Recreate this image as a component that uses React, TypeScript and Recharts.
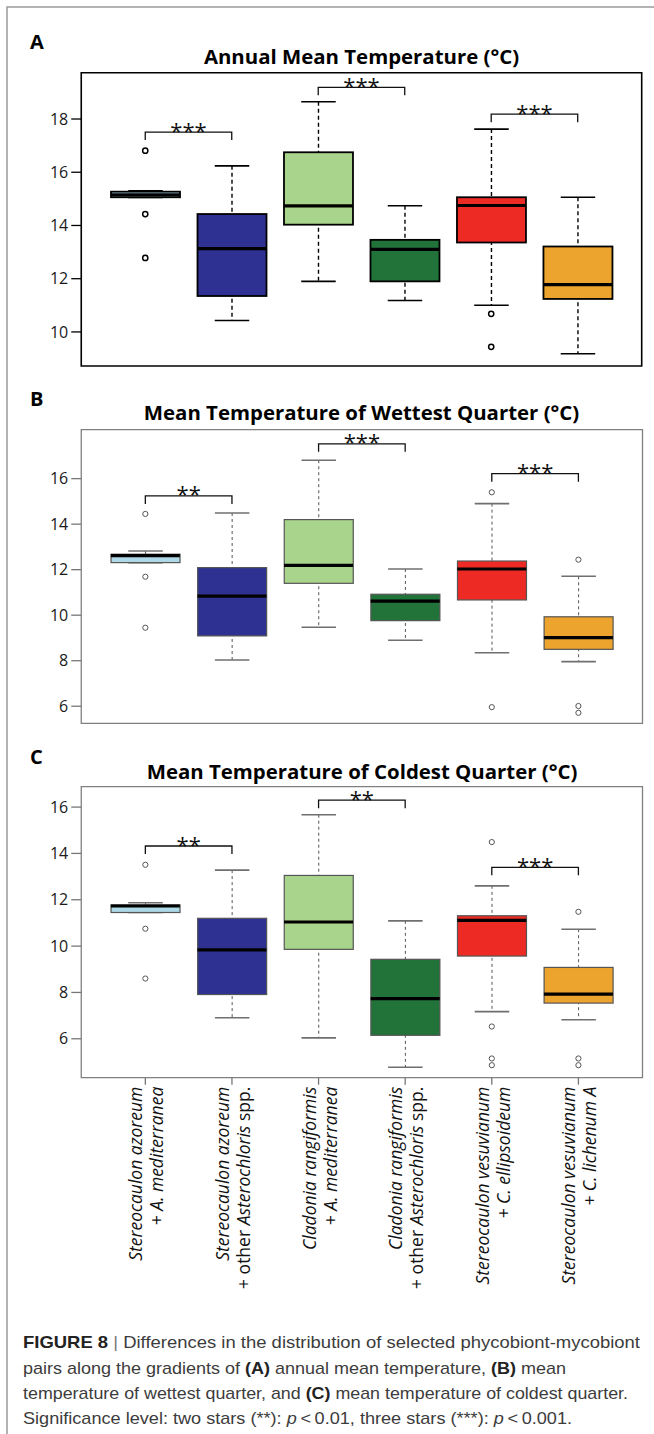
import React from 'react';
import {
  ComposedChart,
  Bar,
  Scatter,
  XAxis,
  YAxis,
  ReferenceLine,
  ReferenceArea,
} from 'recharts';

// groups (x positions) and their colours
const POSITIONS = [1, 2, 3, 4, 5, 6];
const COLORS = ['#ADD8E6', '#2E3192', '#A9D48C', '#22733A', '#EE2A24', '#EDA42E'];

// two-line axis labels, [text, italic]
const LABEL_TOP = [
  'Stereocaulon azoreum',
  'Stereocaulon azoreum',
  'Cladonia rangiformis',
  'Cladonia rangiformis',
  'Stereocaulon vesuvianum',
  'Stereocaulon vesuvianum',
];
const LABEL_BOTTOM: [string, boolean][][] = [
  [['+ A. mediterranea', true]],
  [['+ other ', false], ['Asterochloris', true], [' spp.', false]],
  [['+ A. mediterranea', true]],
  [['+ other ', false], ['Asterochloris', true], [' spp.', false]],
  [['+ C. ellipsoideum', true]],
  [['+ C. lichenum A', true]],
];

// A: annual mean temperature
const A_LO = [15.05, 10.43, 11.9, 11.18, 11.0, 9.18];
const A_Q1 = [15.06, 11.35, 14.03, 11.9, 13.36, 11.24];
const A_MED = [15.15, 13.13, 14.74, 13.1, 14.75, 11.78];
const A_Q3 = [15.27, 14.43, 16.75, 13.46, 15.06, 13.21];
const A_HI = [15.3, 16.24, 18.65, 14.74, 17.62, 15.06];
const A_OUT_POS = [1, 1, 1, 5, 5];
const A_OUT_VAL = [16.81, 14.43, 12.78, 10.68, 9.44];
const A_TICKS = [10, 12, 14, 16, 18];
const A_SIG = [
  { from: 1, to: 2, y: 17.51, stars: '***' },
  { from: 3, to: 4, y: 19.19, stars: '***' },
  { from: 5, to: 6, y: 18.18, stars: '***' },
];

// B: mean temperature of wettest quarter
const B_LO = [12.31, 8.03, 9.47, 8.9, 8.35, 7.96];
const B_Q1 = [12.31, 9.09, 11.4, 9.76, 10.67, 8.5];
const B_MED = [12.62, 10.84, 12.19, 10.62, 12.03, 9.01];
const B_Q3 = [12.68, 12.09, 14.2, 10.92, 12.38, 9.93];
const B_HI = [12.82, 14.49, 16.81, 12.03, 14.9, 11.71];
const B_OUT_POS = [1, 1, 1, 5, 5, 6, 6, 6];
const B_OUT_VAL = [14.45, 11.69, 9.45, 15.4, 5.96, 12.44, 6.01, 5.71];
const B_TICKS = [6, 8, 10, 12, 14, 16];
const B_SIG = [
  { from: 1, to: 2, y: 15.24, stars: '**' },
  { from: 3, to: 4, y: 17.53, stars: '***' },
  { from: 5, to: 6, y: 16.22, stars: '***' },
];

// C: mean temperature of coldest quarter
const C_LO = [11.45, 6.91, 6.04, 4.77, 7.17, 6.82];
const C_Q1 = [11.45, 7.91, 9.86, 6.15, 9.57, 7.54];
const C_MED = [11.73, 9.84, 11.04, 7.73, 11.11, 7.93];
const C_Q3 = [11.78, 11.2, 13.05, 9.43, 11.31, 9.08];
const C_HI = [11.87, 13.28, 15.67, 11.09, 12.6, 10.73];
const C_OUT_POS = [1, 1, 1, 5, 5, 5, 5, 6, 6, 6];
const C_OUT_VAL = [13.51, 10.75, 8.6, 14.49, 6.53, 5.15, 4.86, 11.48, 5.15, 4.86];
const C_TICKS = [6, 8, 10, 12, 14, 16];
const C_SIG = [
  { from: 1, to: 2, y: 14.32, stars: '**' },
  { from: 3, to: 4, y: 16.3, stars: '**' },
  { from: 5, to: 6, y: 13.4, stars: '***' },
];

const X_DOMAIN: [number, number] = [0.26, 6.74];
const BOX_W = 69;
const FONT = "'Open Sans', 'DejaVu Sans', sans-serif";

const DARK = {
  border: '#000', borderW: 1.6, box: '#000', boxW: 1.8, whisker: '#000', whiskerW: 1.4,
  dash: '4 3', cap: '#000', capW: 1.6, pt: '#000', ptW: 1.5, tick: '#000',
};
const GRAY = {
  border: '#808080', borderW: 1.3, box: '#555', boxW: 1.2, whisker: '#555', whiskerW: 1,
  dash: '3 3', cap: '#6f6f6f', capW: 1.6, pt: '#555', ptW: 1, tick: '#777',
};

type Theme = typeof DARK;

function buildRows(lo: number[], q1: number[], med: number[], q3: number[], hi: number[]) {
  return POSITIONS.map((pos, i) => ({
    pos, lo: lo[i], q1: q1[i], med: med[i], q3: q3[i], hi: hi[i], color: COLORS[i],
  }));
}

function buildOutliers(pos: number[], val: number[]) {
  return pos.map((p, i) => ({ pos: p, v: val[i] }));
}

function SpeciesTick(props: any) {
  const { x, y, payload } = props;
  const i = POSITIONS.indexOf(payload.value);
  if (i < 0) return null;
  return (
    <g transform={`translate(${x},${y}) rotate(-90)`} fontFamily={FONT} fontSize={17.5} fill="#111">
      <text x={0} y={-3} textAnchor="end" fontStyle="italic">
        {LABEL_TOP[i]}
      </text>
      <text x={0} y={18} textAnchor="end">
        {LABEL_BOTTOM[i].map(([t, it], k) => (
          <tspan key={k} fontStyle={it ? 'italic' : 'normal'}>
            {t}
          </tspan>
        ))}
      </text>
    </g>
  );
}

interface PanelProps {
  top: number;
  height: number;
  margin: { top: number; right: number; bottom: number; left: number };
  domain: [number, number];
  ticks: number[];
  rows: ReturnType<typeof buildRows>;
  outliers: { pos: number; v: number }[];
  sig: { from: number; to: number; y: number; stars: string }[];
  theme: Theme;
  labels?: boolean;
}

function Panel({ top, height, margin, domain, ticks, rows, outliers, sig, theme, labels }: PanelProps) {
  return (
    <div style={{ position: 'absolute', left: 0, top }}>
      <ComposedChart width={654} height={height} margin={margin} data={rows}>
        <XAxis
          type="number"
          dataKey="pos"
          domain={X_DOMAIN}
          ticks={POSITIONS}
          interval={0}
          axisLine={false}
          tickSize={7}
          tickMargin={2}
          tickLine={{ stroke: theme.tick, strokeWidth: 1.3 }}
          tick={labels ? <SpeciesTick /> : false}
          height={labels ? 230 : 10}
        />
        <XAxis xAxisId="w" type="number" dataKey="pos" domain={X_DOMAIN} ticks={POSITIONS} hide />
        <YAxis
          type="number"
          domain={domain}
          ticks={ticks}
          allowDataOverflow
          width={60}
          axisLine={false}
          tickSize={10}
          tickMargin={3}
          tickLine={{ stroke: theme.tick, strokeWidth: 1.3 }}
          tick={{ fontSize: 16, fill: '#1a1a1a', fontFamily: FONT }}
        />
        <ReferenceArea
          x1={X_DOMAIN[0]}
          x2={X_DOMAIN[1]}
          y1={domain[0]}
          y2={domain[1]}
          fill="none"
          fillOpacity={0}
          stroke={theme.border}
          strokeWidth={theme.borderW}
          ifOverflow="visible"
        />
        {/* whiskers + staples */}
        <Bar
          xAxisId="w"
          dataKey={(d: any) => [d.lo, d.hi]}
          barSize={BOX_W}
          isAnimationActive={false}
          shape={(p: any) => {
            const cx = p.x + p.width / 2;
            const half = p.width / 4;
            return (
              <g>
                <line x1={cx} x2={cx} y1={p.y} y2={p.y + p.height} stroke={theme.whisker} strokeWidth={theme.whiskerW} strokeDasharray={theme.dash} />
                <line x1={cx - half} x2={cx + half} y1={p.y} y2={p.y} stroke={theme.cap} strokeWidth={theme.capW} />
                <line x1={cx - half} x2={cx + half} y1={p.y + p.height} y2={p.y + p.height} stroke={theme.cap} strokeWidth={theme.capW} />
              </g>
            );
          }}
        />
        {/* boxes */}
        <Bar
          dataKey={(d: any) => [d.q1, d.q3]}
          barSize={BOX_W}
          isAnimationActive={false}
          shape={(p: any) => (
            <rect x={p.x} y={p.y} width={p.width} height={p.height} fill={p.payload.color} stroke={theme.box} strokeWidth={theme.boxW} />
          )}
        />
        {/* medians */}
        <Scatter
          dataKey="med"
          isAnimationActive={false}
          shape={(p: any) => (
            <line x1={p.cx - BOX_W / 2} x2={p.cx + BOX_W / 2} y1={p.cy} y2={p.cy} stroke="#000" strokeWidth={3.2} />
          )}
        />
        {/* outliers */}
        <Scatter
          data={outliers}
          dataKey="v"
          isAnimationActive={false}
          shape={(p: any) => <circle cx={p.cx} cy={p.cy} r={2.6} fill="#fff" stroke={theme.pt} strokeWidth={theme.ptW} />}
        />
        {sig.map((s) => (
          <ReferenceLine
            key={s.from}
            segment={[{ x: s.from, y: s.y }, { x: s.to, y: s.y }]}
            ifOverflow="visible"
            shape={(p: any) => (
              <g>
                <path
                  d={`M${p.x1},${p.y1 + 8}V${p.y1}H${p.x2}V${p.y1 + 8}`}
                  fill="none"
                  stroke="#111"
                  strokeWidth={1.3}
                />
                <text x={(p.x1 + p.x2) / 2} y={p.y1 + 6.5} textAnchor="middle" fontFamily={FONT} fontSize={22} fill="#111">
                  {s.stars}
                </text>
              </g>
            )}
          />
        ))}
      </ComposedChart>
    </div>
  );
}

const TITLE = { fontFamily: FONT, fontWeight: 700, fontSize: 20.4, fill: '#000' } as const;
const LETTER = { fontFamily: FONT, fontWeight: 700, fontSize: 20, fill: '#000' } as const;
const CAP = { fontFamily: "'Liberation Sans', Arial, sans-serif", fontSize: 17, fill: '#3c3c3c' } as const;

export default function App() {
  return (
    <div style={{ position: 'absolute', left: 0, top: 0, width: 654, height: 1434, background: '#fff' }}>
      <Panel
        top={0}
        height={380}
        margin={{ top: 72.7, right: 12.3, bottom: 4, left: 21.25 }}
        domain={[8.72, 19.74]}
        ticks={A_TICKS}
        rows={buildRows(A_LO, A_Q1, A_MED, A_Q3, A_HI)}
        outliers={buildOutliers(A_OUT_POS, A_OUT_VAL)}
        sig={A_SIG}
        theme={DARK}
      />
      <Panel
        top={380}
        height={360}
        margin={{ top: 49.7, right: 11.5, bottom: 6.7, left: 21.25 }}
        domain={[5.25, 18.15]}
        ticks={B_TICKS}
        rows={buildRows(B_LO, B_Q1, B_MED, B_Q3, B_HI)}
        outliers={buildOutliers(B_OUT_POS, B_OUT_VAL)}
        sig={B_SIG}
        theme={GRAY}
      />
      <Panel
        top={740}
        height={570}
        margin={{ top: 46.7, right: 11.5, bottom: 2.3, left: 21.25 }}
        domain={[4.32, 16.88]}
        ticks={C_TICKS}
        rows={buildRows(C_LO, C_Q1, C_MED, C_Q3, C_HI)}
        outliers={buildOutliers(C_OUT_POS, C_OUT_VAL)}
        sig={C_SIG}
        theme={GRAY}
        labels
      />
      <svg width={654} height={1434} style={{ position: 'absolute', left: 0, top: 0, pointerEvents: 'none' }}>
        <path d="M654,7H7V1434" fill="none" stroke="#9a9a9a" strokeWidth={1.5} />
        <text x={30} y={49} {...LETTER}>A</text>
        <text x={30} y={406} {...LETTER}>B</text>
        <text x={30} y={764} {...LETTER}>C</text>
        <text x={361.5} y={64} textAnchor="middle" {...TITLE}>Annual Mean Temperature (°C)</text>
        <text x={361.5} y={420} textAnchor="middle" {...TITLE}>Mean Temperature of Wettest Quarter (°C)</text>
        <text x={362} y={779} textAnchor="middle" {...TITLE}>Mean Temperature of Coldest Quarter (°C)</text>

        <text x={23} y={1348} textLength={617} lengthAdjust="spacingAndGlyphs" {...CAP}>
          <tspan fontWeight={700} fill="#222">FIGURE 8</tspan>
          <tspan fill="#777"> | </tspan>
          <tspan>Differences in the distribution of selected phycobiont-mycobiont</tspan>
        </text>
        <text x={23} y={1374} textLength={543} lengthAdjust="spacingAndGlyphs" {...CAP}>
          <tspan>pairs along the gradients of </tspan>
          <tspan fontWeight={700} fill="#222">(A)</tspan>
          <tspan> annual mean temperature, </tspan>
          <tspan fontWeight={700} fill="#222">(B)</tspan>
          <tspan> mean</tspan>
        </text>
        <text x={23} y={1399} textLength={605} lengthAdjust="spacingAndGlyphs" {...CAP}>
          <tspan>temperature of wettest quarter, and </tspan>
          <tspan fontWeight={700} fill="#222">(C)</tspan>
          <tspan> mean temperature of coldest quarter.</tspan>
        </text>
        <text x={23} y={1424} textLength={549} lengthAdjust="spacingAndGlyphs" {...CAP}>
          <tspan>Significance level: two stars (**): </tspan>
          <tspan fontStyle="italic">p</tspan>
          <tspan>{'\u2009<\u20090.01, three stars (***): '}</tspan>
          <tspan fontStyle="italic">p</tspan>
          <tspan>{'\u2009<\u20090.001.'}</tspan>
        </text>
      </svg>
    </div>
  );
}
